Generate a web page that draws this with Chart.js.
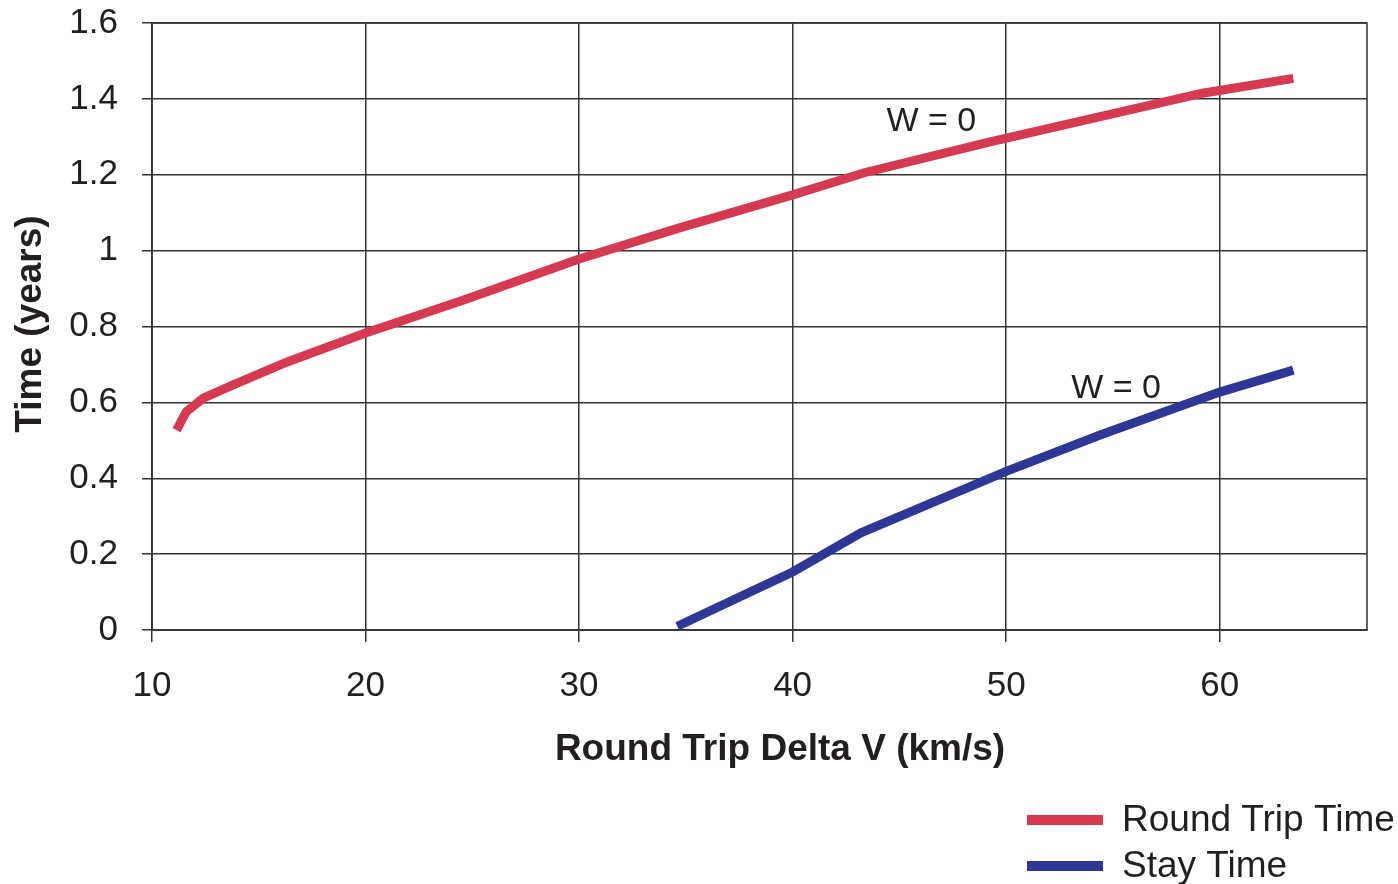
<!DOCTYPE html>
<html>
<head>
<meta charset="utf-8">
<script src="https://cdn.jsdelivr.net/npm/chart.js@4/dist/chart.umd.min.js"></script>
<style>
  html, body { margin: 0; padding: 0; background: #fff; }
  #wrap { width: 1398px; height: 884px; position: relative; }
</style>
</head>
<body>
<div id="wrap"><canvas id="grafico"></canvas></div>
<script>
// dados
const roundTripDV = [11.15, 11.6, 12.4, 13.8, 16.3, 20, 24.6, 30, 34.7, 40, 43.4, 49.3, 59.2, 63.45];
const roundTripTime = [0.527, 0.575, 0.611, 0.646, 0.706, 0.783, 0.87, 0.978, 1.06, 1.147, 1.206, 1.287, 1.415, 1.454];
const stayDV = [34.6, 40, 43.2, 50, 54.4, 60, 63.45];
const stayTime = [0.01, 0.153, 0.256, 0.418, 0.514, 0.627, 0.685];
const xTicks = [10, 20, 30, 40, 50, 60];
const seriesNames = ['Round Trip Time', 'Stay Time'];
const seriesColors = ['#d63a52', '#2e3796'];
const notas = [
  { x: 46.5, y: 1.339, text: 'W = 0' },
  { x: 55.15, y: 0.637, text: 'W = 0' }
];

const fonte = '"Liberation Sans", Arial, sans-serif';
const corTexto = '#231f20';

function pontos(xs, ys) {
  return xs.map((x, i) => ({ x: x, y: ys[i] }));
}

const extras = {
  id: 'extras',
  afterDraw(chart) {
    const ctx = chart.ctx;
    const a = chart.chartArea;
    const sx = chart.scales.x, sy = chart.scales.y;
    ctx.save();
    // moldura
    ctx.strokeStyle = '#333';
    ctx.lineWidth = 1.5;
    ctx.strokeRect(a.left, a.top, a.right - a.left, a.bottom - a.top);

    ctx.fillStyle = corTexto;
    // titulos dos eixos
    ctx.font = 'bold 37px ' + fonte;
    ctx.textAlign = 'center';
    ctx.textBaseline = 'middle';
    ctx.fillText('Round Trip Delta V (km/s)', 780, 750);
    ctx.save();
    ctx.translate(31, 324);
    ctx.rotate(-Math.PI / 2);
    ctx.fillText('Time (years)', 0, 0);
    ctx.restore();

    // anotacoes
    ctx.font = '34px ' + fonte;
    notas.forEach(n => {
      ctx.fillText(n.text, sx.getPixelForValue(n.x), sy.getPixelForValue(n.y));
    });

    // legenda
    ctx.font = '37px ' + fonte;
    ctx.textAlign = 'left';
    chart.data.datasets.forEach((ds, i) => {
      const y = 820 + i * 46;
      ctx.strokeStyle = ds.borderColor;
      ctx.lineWidth = 10;
      ctx.beginPath();
      ctx.moveTo(1027, y);
      ctx.lineTo(1103, y);
      ctx.stroke();
      ctx.fillText(ds.label, 1122, y + 1);
    });
    ctx.restore();
  }
};

new Chart(document.getElementById('grafico'), {
  type: 'line',
  data: {
    datasets: [
      { label: seriesNames[0], data: pontos(roundTripDV, roundTripTime), borderColor: seriesColors[0] },
      { label: seriesNames[1], data: pontos(stayDV, stayTime), borderColor: seriesColors[1] }
    ]
  },
  options: {
    responsive: true,
    maintainAspectRatio: false,
    animation: false,
    layout: { padding: { left: 0, top: 23, right: 31, bottom: 0 } },
    elements: {
      line: { borderWidth: 9, tension: 0, fill: false, borderCapStyle: 'butt' },
      point: { radius: 0 }
    },
    plugins: { legend: { display: false }, tooltip: { enabled: false } },
    scales: {
      x: {
        type: 'linear',
        min: 10,
        max: 66.9,
        afterBuildTicks: s => { s.ticks = xTicks.map(v => ({ value: v })); },
        afterFit: s => { s.height = 254; s.paddingLeft = 0; s.paddingRight = 0; },
        grid: { color: '#333', lineWidth: 1.5, tickLength: 12 },
        border: { color: '#333', width: 1.5 },
        ticks: { color: corTexto, font: { family: fonte, size: 35 }, padding: 23, maxRotation: 0 }
      },
      y: {
        min: 0,
        max: 1.6,
        ticks: {
          stepSize: 0.2,
          color: corTexto,
          font: { family: fonte, size: 35 },
          padding: 24,
          callback: v => String(Number(v.toFixed(1)))
        },
        afterFit: s => { s.width = 152; s.paddingTop = 0; s.paddingBottom = 0; },
        grid: { color: '#333', lineWidth: 1.5, tickLength: 10 },
        border: { color: '#333', width: 1.5 }
      }
    }
  },
  plugins: [extras]
});
</script>
</body>
</html>
